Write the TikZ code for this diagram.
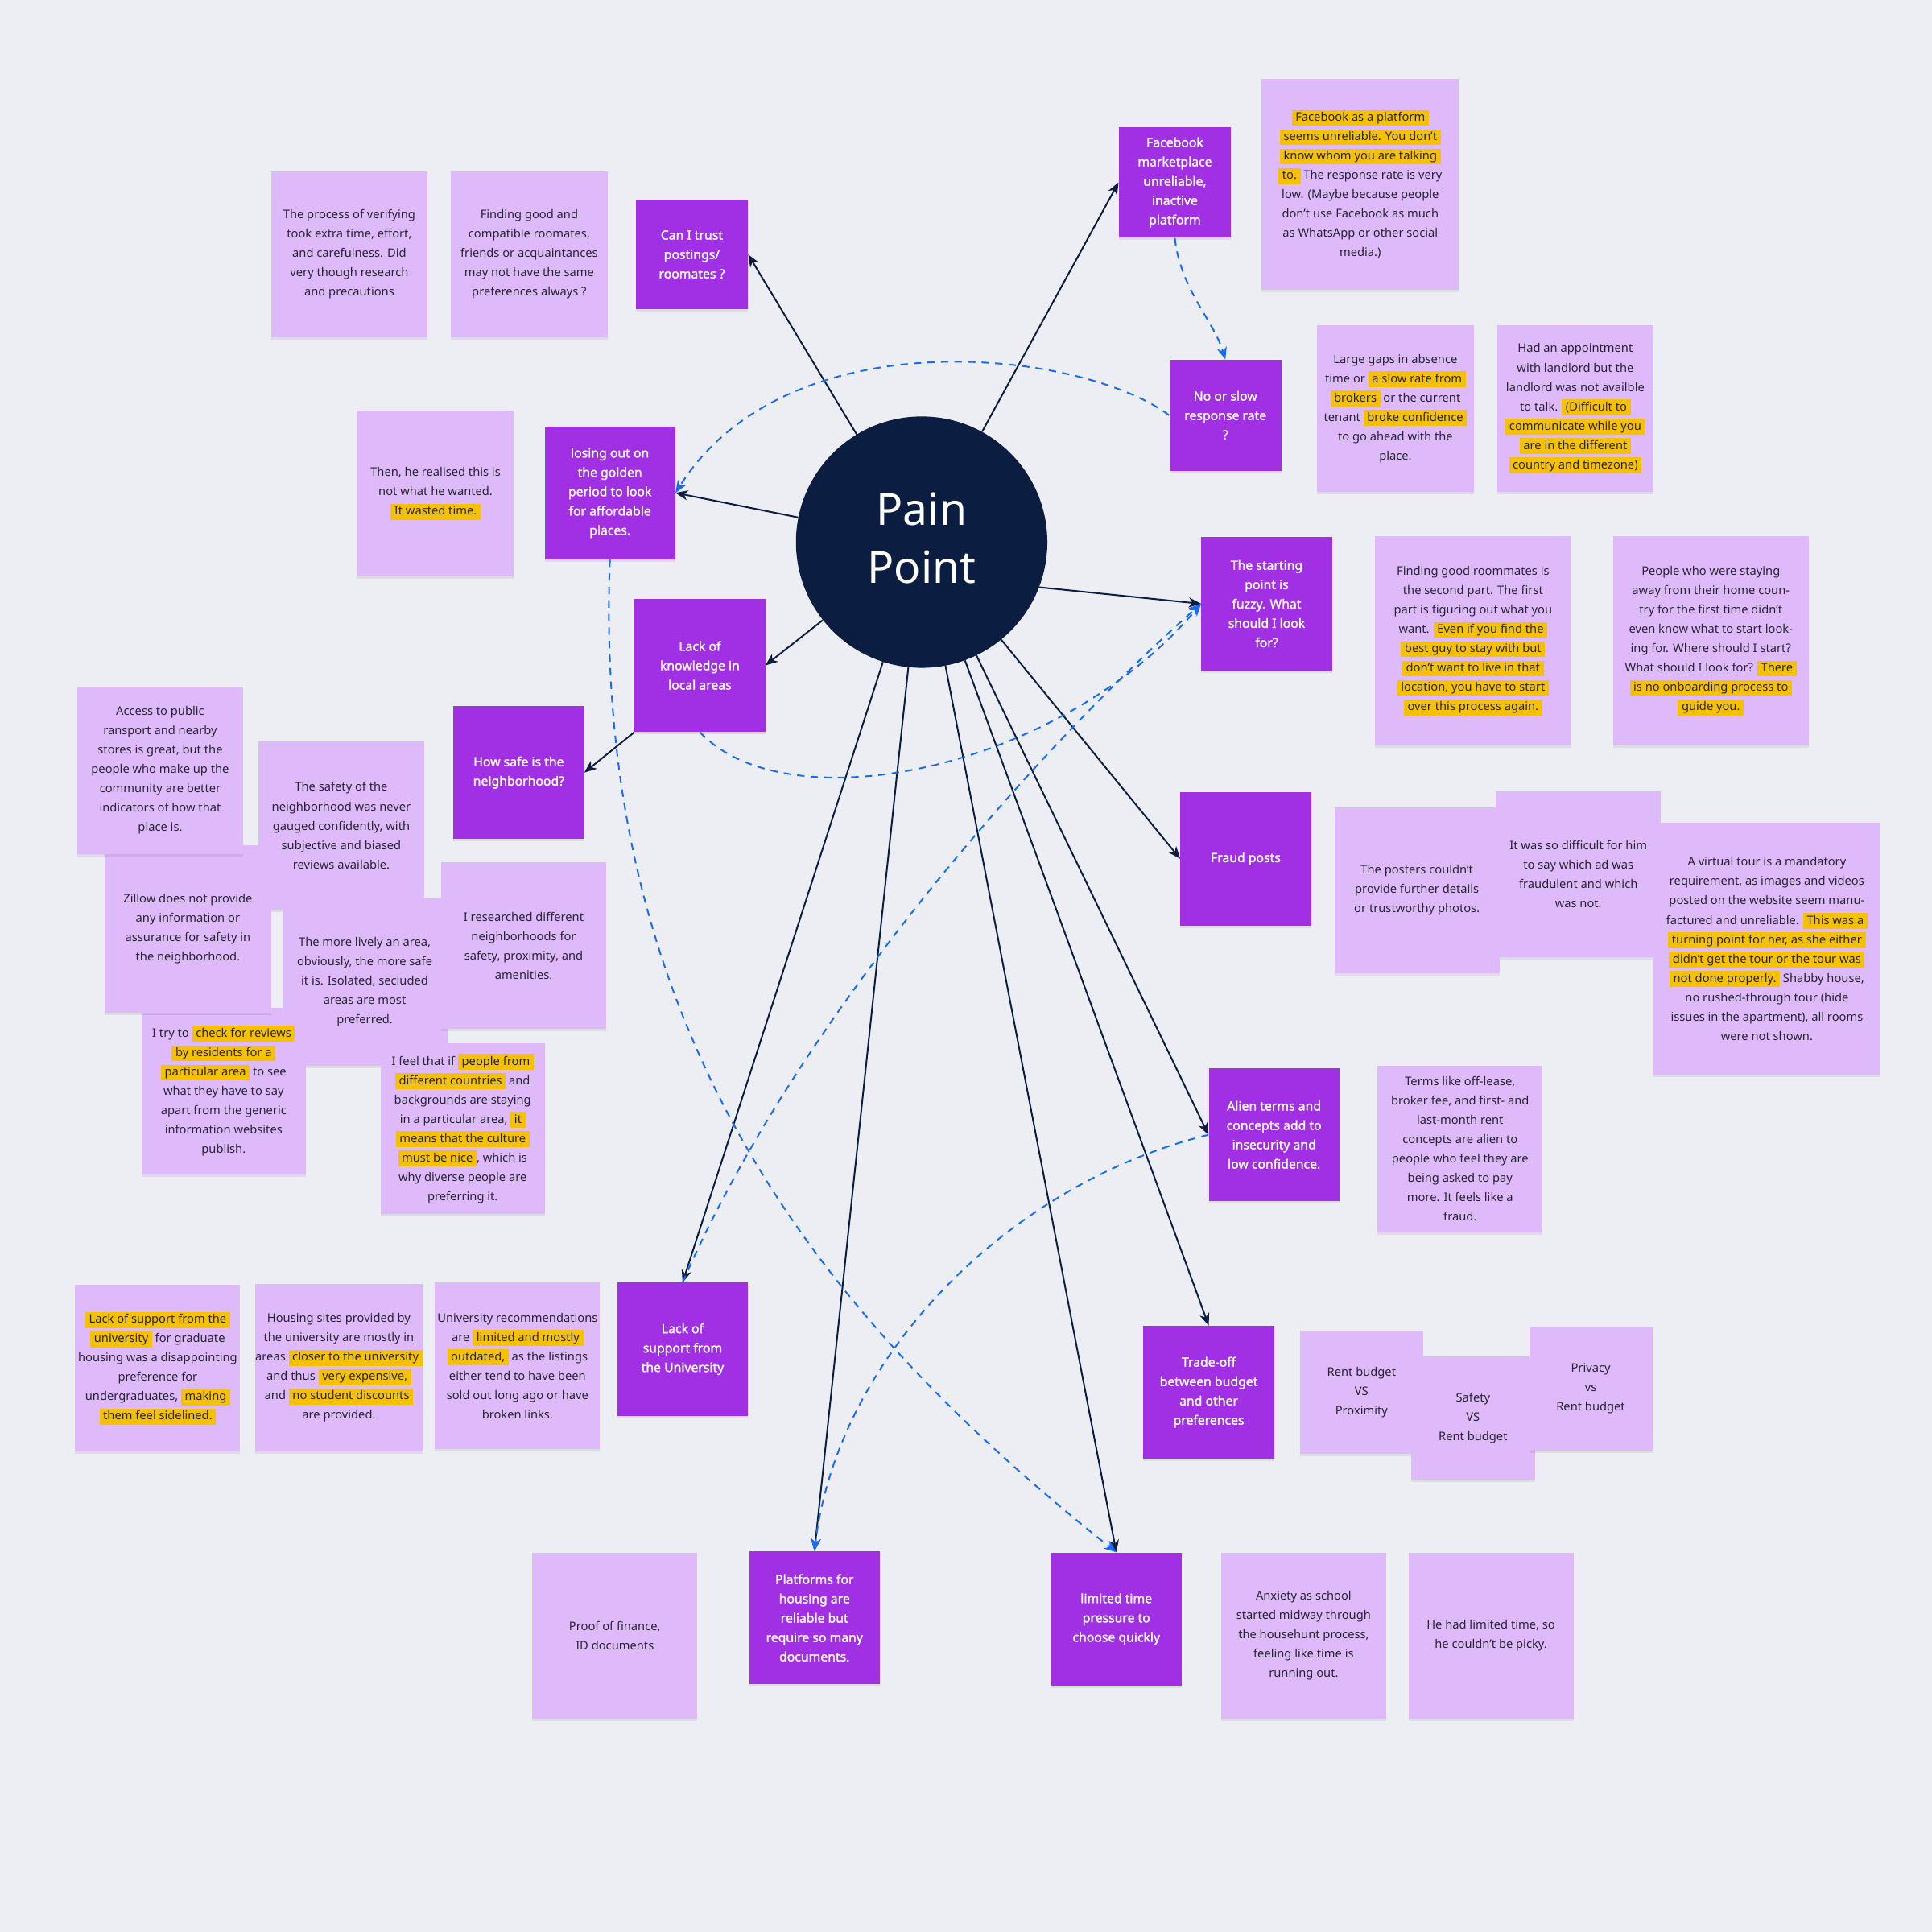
\documentclass[tikz,border=0pt]{standalone}
\usepackage{fontspec}
\setmainfont{Noto Sans}[AutoFakeBold=1.6]
\usetikzlibrary{arrows.meta,shadows}
\definecolor{bgc}{RGB}{236,238,243}
\definecolor{purp}{RGB}{161,47,228}
\definecolor{notec}{RGB}{223,186,250}
\definecolor{navy}{RGB}{12,29,66}
\definecolor{dblue}{RGB}{22,108,245}
\definecolor{hly}{RGB}{246,193,0}
\definecolor{notetext}{RGB}{40,38,52}
\newcommand\notefont{\fontsize{9.6pt}{15.7pt}\selectfont}
\newcommand\pfont{\fontsize{10.3pt}{15.7pt}\selectfont\bfseries}
\newcommand\hl[1]{{\setlength{\fboxsep}{0pt}\colorbox{hly}{\rule[-3.8pt]{0pt}{13pt}\hspace{3pt}#1\hspace{3pt}}}}
\begin{document}
\begin{tikzpicture}[x=1pt,y=-1pt,
  sz/.style 2 args={minimum width=#1pt, minimum height=#2pt},
  note/.style={rectangle, fill=notec, inner sep=0pt, align=center, text=notetext, font=\notefont,
    drop shadow={shadow xshift=0pt, shadow yshift=-2pt, opacity=0.07, fill=black}},
  pnode/.style={rectangle, fill=purp, inner sep=0pt, align=center, text=white, font=\pfont,
    drop shadow={shadow xshift=0pt, shadow yshift=-2pt, opacity=0.07, fill=black}},
  arr/.style={draw=navy, line width=1.3pt, -{Stealth[length=10pt,width=8pt,inset=3pt]}},
  darr/.style={draw=dblue, line width=1.3pt, dash pattern=on 6pt off 5pt, -{Stealth[length=10pt,width=8pt,inset=3pt]}},
]
\useasboundingbox (0,0) rectangle (1568,1568);
\fill[bgc] (0,0) rectangle (1568,1568);

% ---------- centre ----------
\node[circle, fill=navy, minimum size=204pt, inner sep=0pt] (pp) at (748,440) {};
\node[align=center, text=white, inner sep=0pt, font=\fontsize{36pt}{47pt}\selectfont] (pptext) at (748,436.5) {Pain\\Point};

% ---------- top ----------
\node[note, sz={127}{135}] (verify) at (283.5,206.5) {The process of verifying\\took extra time, effort,\\and carefulness. Did\\very though research\\and precautions};
\node[note, sz={127}{135}] (findgood) at (429.5,206.5) {Finding good and\\compatible roomates,\\friends or acquaintances\\may not have the same\\preferences always ?};
\node[pnode, sz={91}{89}] (canitrust) at (561.5,206.5) {Can I trust\\postings/\\roomates ?};

\node[pnode, sz={91}{90}] (fbm) at (953.5,148) {Facebook\\marketplace\\unreliable,\\inactive\\platform};
\node[note, sz={160}{171}] (fbnote) at (1104,149.5) {\hl{Facebook as a platform}\\\hl{seems unreliable. You don't}\\\hl{know whom you are talking}\\\hl{to.} The response rate is very\\low. (Maybe because people\\don't use Facebook as much\\as WhatsApp or other social\\media.)};

\node[pnode, sz={91}{90}] (noslow) at (994.5,337) {No or slow\\response rate\\?};
\node[note, sz={127}{135}] (gaps) at (1132.5,331.5) {Large gaps in absence\\time or \hl{a slow rate from}\\\hl{brokers} or the current\\tenant \hl{broke confidence}\\to go ahead with the\\place.};
\node[note, sz={127}{135}] (appt) at (1278.5,331.5) {Had an appointment\\with landlord but the\\landlord was not availble\\to talk. \hl{(Difficult to}\\\hl{communicate while you}\\\hl{are in the different}\\\hl{country and timezone)}};

\node[note, sz={127}{135}] (then) at (353.5,400.5) {Then, he realised this is\\not what he wanted.\\\hl{It wasted time.}};
\node[pnode, sz={106}{108}] (losing) at (495,400) {losing out on\\the golden\\period to look\\for affordable\\places.};

% ---------- right middle ----------
\node[pnode, sz={106}{108}] (starting) at (1028,490) {The starting\\point is\\fuzzy. What\\should I look\\for?};
\node[note, sz={159}{170}] (roommates) at (1195.5,520) {Finding good roommates is\\the second part. The first\\part is figuring out what you\\want. \hl{Even if you find the}\\\hl{best guy to stay with but}\\\hl{don't want to live in that}\\\hl{location, you have to start}\\\hl{over this process again.}};
\node[note, sz={159}{170}] (people) at (1388.5,520) {People who were staying\\away from their home coun-\\try for the first time didn't\\even know what to start look-\\ing for. Where should I start?\\What should I look for? \hl{There}\\\hl{is no onboarding process to}\\\hl{guide you.}};

\node[pnode, sz={106}{108}] (fraud) at (1011,697) {Fraud posts};
\node[note, sz={134}{135}] (difficult) at (1281,709.5) {It was so difficult for him\\to say which ad was\\fraudulent and which\\was not.};
\node[note, sz={134}{135}] (posters) at (1150,722.5) {The posters couldn't\\provide further details\\or trustworthy photos.};
\node[note, sz={184}{204}] (virtual) at (1434,770) {A virtual tour is a mandatory\\requirement, as images and videos\\posted on the website seem manu-\\factured and unreliable. \hl{This was a}\\\hl{turning point for her, as she either}\\\hl{didn't get the tour or the tour was}\\\hl{not done properly.} Shabby house,\\no rushed-through tour (hide\\issues in the apartment), all rooms\\were not shown.};

\node[pnode, sz={106}{108}] (alien) at (1034,921) {Alien terms and\\concepts add to\\insecurity and\\low confidence.};
\node[note, sz={134}{135}] (terms) at (1185,932.5) {Terms like off-lease,\\broker fee, and first- and\\last-month rent\\concepts are alien to\\people who feel they are\\being asked to pay\\more. It feels like a\\fraud.};

\node[pnode, sz={106}{108}] (tradeoff) at (981,1130) {Trade-off\\between budget\\and other\\preferences};
\node[note, sz={100}{100}] (rp) at (1105,1130) {Rent budget\\VS\\Proximity};
\node[note, sz={101}{100}] (sr) at (1195.5,1151) {Safety\\VS\\Rent budget};
\node[note, sz={100}{100}] (pr) at (1291,1127) {Privacy\\vs\\Rent budget};

% ---------- left middle ----------
\node[pnode, sz={106}{108}] (lackknow) at (568,540) {Lack of\\knowledge in\\local areas};
\node[pnode, sz={106}{108}] (howsafe) at (421,627) {How safe is the\\neighborhood?};
\node[note, sz={134}{136}] (safety) at (277,670) {The safety of the\\neighborhood was never\\gauged confidently, with\\subjective and biased\\reviews available.};
\node[note, sz={134}{136}] (lively) at (296,797) {The more lively an area,\\obviously, the more safe\\it is. Isolated, secluded\\areas are most\\preferred.};
\node[note, sz={133}{135}] (itry) at (181.5,885.5) {I try to \hl{check for reviews}\\\hl{by residents for a}\\\hl{particular area} to see\\what they have to say\\apart from the generic\\information websites\\publish.};
\node[note, sz={135}{136}] (zillow) at (152.5,754) {Zillow does not provide\\any information or\\assurance for safety in\\the neighborhood.};
\node[note, sz={134}{136}] (access) at (130,625) {Access to public\\ransport and nearby\\stores is great, but the\\people who make up the\\community are better\\indicators of how that\\place is.};
\node[note, sz={134}{135}] (researched) at (425,767.5) {I researched different\\neighborhoods for\\safety, proximity, and\\amenities.};
\node[note, sz={133}{138}] (ifeel) at (375.5,916) {I feel that if \hl{people from}\\\hl{different countries} and\\backgrounds are staying\\in a particular area, \hl{it}\\\hl{means that the culture}\\\hl{must be nice}, which is\\why diverse people are\\preferring it.};

% ---------- bottom ----------
\node[note, sz={134}{135}] (lsnote) at (128,1110.5) {\hl{Lack of support from the}\\\hl{university} for graduate\\housing was a disappointing\\preference for\\undergraduates, \hl{making}\\\hl{them feel sidelined.}};
\node[note, sz={134}{136}] (housing) at (275,1110) {Housing sites provided by\\the university are mostly in\\areas \hl{closer to the university}\\and thus \hl{very expensive,}\\and \hl{no student discounts}\\are provided.};
\node[note, sz={134}{135}] (unirec) at (420,1108.5) {University recommendations\\are \hl{limited and mostly}\\\hl{outdated,} as the listings\\either tend to have been\\sold out long ago or have\\broken links.};
\node[pnode, sz={106}{108}] (lacksup) at (554,1095) {Lack of\\support from\\the University};

\node[note, sz={134}{135}] (proof) at (499,1327.5) {Proof of finance,\\ID documents};
\node[pnode, sz={106}{108}] (platforms) at (661,1313) {Platforms for\\housing are\\reliable but\\require so many\\documents.};
\node[pnode, sz={106}{108}] (limited) at (906,1314) {limited time\\pressure to\\choose quickly};
\node[note, sz={134}{135}] (anxiety) at (1058,1327.5) {Anxiety as school\\started midway through\\the househunt process,\\feeling like time is\\running out.};
\node[note, sz={134}{135}] (hehad) at (1210,1327.5) {He had limited time, so\\he couldn't be picky.};

% ---------- solid connectors ----------
\draw[arr] (pp) -- (canitrust.east);
\draw[arr] (pp) -- (fbm.west);
\draw[arr] (pp) -- (losing.east);
\draw[arr] (pp) -- (lackknow.east);
\draw[arr] (lackknow.south west) -- (howsafe.east);
\draw[arr] (pp.-21.5) -- (starting.west);
\draw[arr] (pp) -- (fraud.west);
\draw[arr] (pp) -- (alien.west);
\draw[arr] (pp) -- (tradeoff.north);
\draw[arr] (pp) -- (limited.north);
\draw[arr] (pp) -- (platforms.north);
\draw[arr] (pp) -- (lacksup.north);

% ---------- dashed connectors ----------
\draw[darr] (fbm.south) .. controls (958,235) and (985,260) .. (noslow.north);
\draw[darr] (noslow.west) .. controls (880,285) and (640,255) .. (losing.east);
\draw[darr] (losing.south) .. controls (480,850) and (680,1080) .. (limited.north);
\draw[darr] (lackknow.south) .. controls (640,670) and (860,625) .. (starting.west);
\draw[darr] (lacksup.north) .. controls (650,820) and (850,600) .. (starting.west);
\draw[darr] (alien.west) .. controls (820,960) and (680,1100) .. (platforms.north);
\end{tikzpicture}
\end{document}
